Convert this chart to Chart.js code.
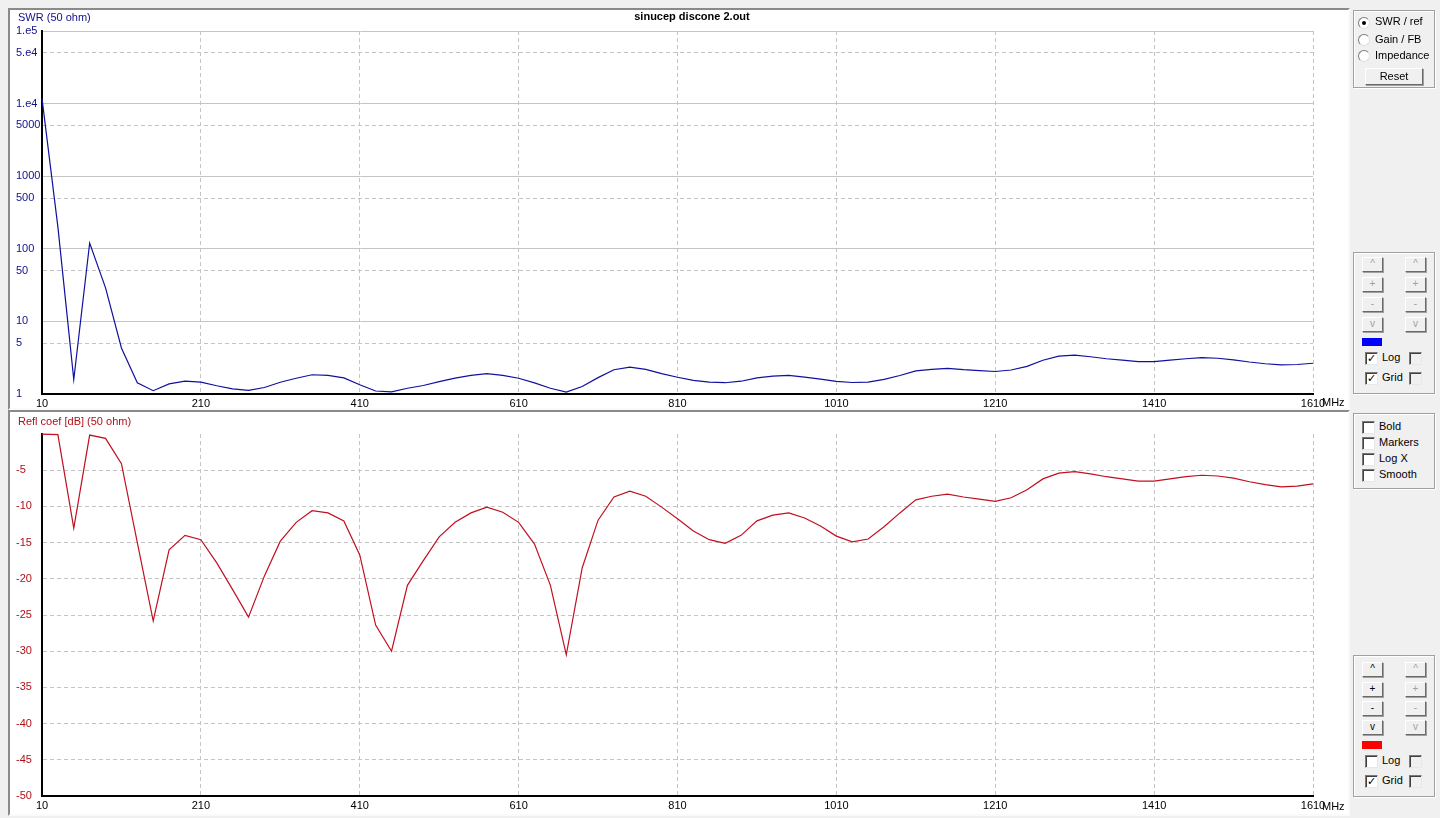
<!DOCTYPE html>
<html>
<head>
<meta charset="utf-8">
<script src="https://cdn.jsdelivr.net/npm/chart.js@4/dist/chart.umd.min.js"></script>
<style>
  body { margin: 0; width: 1440px; height: 818px; background: #f0f0f0; overflow: hidden;
         font-family: "Liberation Sans", Arial, sans-serif; font-size: 11px; position: relative; }
  .panel { position: absolute; background: #fff; border: 2px solid; border-color: #8a8a8a #fafafa #fafafa #8a8a8a; }
  .panel canvas { position: absolute; left: 0; top: 0; }
  .txt { position: absolute; white-space: nowrap; line-height: 13px; }
  .grp { position: absolute; border: 1px solid #a0a0a0; box-shadow: 1px 1px 0 #fff, inset 1px 1px 0 #fff; }
  .btn { position: absolute; width: 19px; height: 13px; background: #f0f0f0; border: 1px solid;
         border-color: #fff #6a6a6a #6a6a6a #fff; box-shadow: 1px 1px 0 #a0a0a0; text-align: center;
         font-size: 10px; line-height: 12px; color: #000; }
  .btn.off { color: #a0a0a0; }
  .wide { width: 56px; height: 15px; font-size: 11px; line-height: 15px; }
  .radio { position: absolute; width: 10px; height: 10px; border-radius: 50%; background: #fff;
           border: 1px solid; border-color: #7a7a7a #e0e0e0 #e0e0e0 #7a7a7a; }
  .radio.on::after { content: ""; position: absolute; left: 3px; top: 3px; width: 4px; height: 4px;
                     border-radius: 50%; background: #000; }
  .chk { position: absolute; width: 11px; height: 11px; background: #fff; border: 1px solid;
         border-color: #7a7a7a #e8e8e8 #e8e8e8 #7a7a7a; box-shadow: inset 1px 1px 0 #404040;
         font-family: "DejaVu Sans", sans-serif; font-size: 11px; font-weight: bold; line-height: 11px; text-align: center; }
  .chk.dis { background: #f0f0f0; }
  .sw { position: absolute; width: 20px; height: 8px; }
</style>
</head>
<body>

<div class="panel" style="left:8px;top:8px;width:1338px;height:398px">
  <canvas id="swr-chart" width="1338" height="398"></canvas>
</div>
<div class="panel" style="left:8px;top:410px;width:1338px;height:402px">
  <canvas id="refl-chart" width="1338" height="402"></canvas>
</div>

<div class="txt" style="left:0;width:1384px;top:10px;text-align:center;font-weight:bold;color:#000">sinucep discone 2.out</div>
<div class="txt" style="left:18px;top:11px;color:#10108a">SWR (50 ohm)</div>
<div class="txt" style="left:18px;top:415px;color:#b01018">Refl coef [dB] (50 ohm)</div>
<div class="txt" style="left:1322px;top:396px">MHz</div>
<div class="txt" style="left:1322px;top:800px">MHz</div>

<!-- right-hand control strip -->
<div class="grp" style="left:1353px;top:10px;width:80px;height:76px"></div>
<div class="radio on" style="left:1358px;top:17px"></div><div class="txt" style="left:1375px;top:15px">SWR / ref</div>
<div class="radio" style="left:1358px;top:34px"></div><div class="txt" style="left:1375px;top:33px">Gain / FB</div>
<div class="radio" style="left:1358px;top:50px"></div><div class="txt" style="left:1375px;top:49px">Impedance</div>
<div class="btn wide" style="left:1365px;top:68px">Reset</div>

<div class="grp" style="left:1353px;top:252px;width:80px;height:140px"></div>
<div class="btn off" style="left:1362px;top:257px">^</div><div class="btn off" style="left:1405px;top:257px">^</div>
<div class="btn off" style="left:1362px;top:277px">+</div><div class="btn off" style="left:1405px;top:277px">+</div>
<div class="btn off" style="left:1362px;top:297px">-</div><div class="btn off" style="left:1405px;top:297px">-</div>
<div class="btn off" style="left:1362px;top:317px">v</div><div class="btn off" style="left:1405px;top:317px">v</div>
<div class="sw" style="left:1362px;top:338px;background:#0000ff"></div>
<div class="chk" style="left:1365px;top:352px">✓</div><div class="txt" style="left:1382px;top:351px">Log</div>
<div class="chk dis" style="left:1409px;top:352px"></div>
<div class="chk" style="left:1365px;top:372px">✓</div><div class="txt" style="left:1382px;top:371px">Grid</div>
<div class="chk dis" style="left:1409px;top:372px"></div>

<div class="grp" style="left:1353px;top:413px;width:80px;height:74px"></div>
<div class="chk" style="left:1362px;top:421px"></div><div class="txt" style="left:1379px;top:420px">Bold</div>
<div class="chk" style="left:1362px;top:437px"></div><div class="txt" style="left:1379px;top:436px">Markers</div>
<div class="chk" style="left:1362px;top:453px"></div><div class="txt" style="left:1379px;top:452px">Log X</div>
<div class="chk" style="left:1362px;top:469px"></div><div class="txt" style="left:1379px;top:468px">Smooth</div>

<div class="grp" style="left:1353px;top:655px;width:80px;height:140px"></div>
<div class="btn" style="left:1362px;top:662px">^</div><div class="btn off" style="left:1405px;top:662px">^</div>
<div class="btn" style="left:1362px;top:682px">+</div><div class="btn off" style="left:1405px;top:682px">+</div>
<div class="btn" style="left:1362px;top:701px">-</div><div class="btn off" style="left:1405px;top:701px">-</div>
<div class="btn" style="left:1362px;top:720px">v</div><div class="btn off" style="left:1405px;top:720px">v</div>
<div class="sw" style="left:1362px;top:741px;background:#ff0000"></div>
<div class="chk" style="left:1365px;top:755px"></div><div class="txt" style="left:1382px;top:754px">Log</div>
<div class="chk dis" style="left:1409px;top:755px"></div>
<div class="chk" style="left:1365px;top:775px">✓</div><div class="txt" style="left:1382px;top:774px">Grid</div>
<div class="chk dis" style="left:1409px;top:775px"></div>

<script>
// Sweep points, MHz (20 MHz steps).
const freqs = [
    10, 30, 50, 70, 90, 110, 130, 150, 170, 190,
    210, 230, 250, 270, 290, 310, 330, 350, 370, 390,
    410, 430, 450, 470, 490, 510, 530, 550, 570, 590,
    610, 630, 650, 670, 690, 710, 730, 750, 770, 790,
    810, 830, 850, 870, 890, 910, 930, 950, 970, 990,
    1010, 1030, 1050, 1070, 1090, 1110, 1130, 1150, 1170, 1190,
    1210, 1230, 1250, 1270, 1290, 1310, 1330, 1350, 1370, 1390,
    1410, 1430, 1450, 1470, 1490, 1510, 1530, 1550, 1570, 1590,
    1610
];

// SWR (50 ohm), upper plot.
const swr = [
    11800, 200, 1.58, 120, 29, 4.3, 1.43, 1.11, 1.38, 1.50,
    1.46, 1.30, 1.18, 1.12, 1.23, 1.45, 1.65, 1.84, 1.80, 1.67,
    1.34, 1.10, 1.07, 1.20, 1.31, 1.48, 1.65, 1.80, 1.91, 1.81,
    1.65, 1.42, 1.20, 1.06, 1.27, 1.68, 2.16, 2.35, 2.18, 1.91,
    1.70, 1.54, 1.46, 1.43, 1.50, 1.67, 1.76, 1.80, 1.71, 1.60,
    1.49, 1.44, 1.46, 1.59, 1.80, 2.08, 2.18, 2.25, 2.16, 2.10,
    2.04, 2.14, 2.40, 2.92, 3.32, 3.44, 3.26, 3.06, 2.92, 2.80,
    2.80, 2.92, 3.06, 3.16, 3.11, 2.96, 2.76, 2.61, 2.52, 2.55,
    2.65
];

// Reflection coefficient in dB, lower plot.
const reflDb = [
    -0.01, -0.09, -13, -0.15, -0.6, -4.1, -15, -25.8, -16, -14,
    -14.6, -17.8, -21.5, -25.3, -19.6, -14.8, -12.2, -10.6, -10.9, -12,
    -16.7, -26.4, -30, -20.9, -17.5, -14.2, -12.2, -10.9, -10.1, -10.8,
    -12.2, -15.2, -20.9, -30.5, -18.5, -11.9, -8.7, -7.9, -8.6, -10.1,
    -11.7, -13.4, -14.6, -15.1, -14, -12, -11.2, -10.9, -11.6, -12.7,
    -14.1, -14.9, -14.5, -12.8, -10.9, -9.1, -8.6, -8.3, -8.7, -9,
    -9.3, -8.8, -7.7, -6.2, -5.4, -5.2, -5.5, -5.9, -6.2, -6.5,
    -6.5, -6.2, -5.9, -5.7, -5.8, -6.1, -6.6, -7, -7.3, -7.2,
    -6.9
];

const xTicks = [10, 210, 410, 610, 810, 1010, 1210, 1410, 1610];
const swrTicks = [1, 5, 10, 50, 100, 500, 1000, 5000, 10000, 50000, 100000];
const swrTickLabels = ['1', '5', '10', '50', '100', '500', '1000', '5000', '1.e4', '5.e4', '1.e5'];
const reflTicks = [-50, -45, -40, -35, -30, -25, -20, -15, -10, -5, 0];

const GRID = '#c4c4c4';
const DASH = [4, 3];
const FONT = { family: '"Liberation Sans", Arial, sans-serif', size: 11 };

function points(ys) {
    return freqs.map(function(f, i) { return { x: f, y: ys[i] }; });
}

// Shared x axis: 10..1610 MHz, dashed verticals, black bottom border.
function xAxis(height) {
    return {
        type: 'linear',
        min: 10,
        max: 1610,
        afterBuildTicks: function(scale) {
            scale.ticks = xTicks.map(function(v) { return { value: v }; });
        },
        afterFit: function(scale) { scale.height = height; },
        ticks: {
            color: '#000', font: FONT, padding: 3, maxRotation: 0, autoSkip: false,
            callback: function(v) { return String(v); }
        },
        grid: {
            drawTicks: false,
            color: function(c) { return c.tick && c.tick.value === 10 ? 'rgba(0,0,0,0)' : GRID; },
        },
        border: { color: '#000', width: 2, dash: DASH },
    };
}

new Chart(document.getElementById('swr-chart'), {
    type: 'line',
    data: {
        datasets: [{
            data: points(swr),
            borderColor: '#1010a0',
            borderWidth: 1.2,
            pointRadius: 0,
            tension: 0,
            clip: 2,
        }]
    },
    options: {
        responsive: false,
        animation: false,
        layout: { padding: { left: 6, top: 21, right: 35, bottom: 0 } },
        plugins: { legend: { display: false }, tooltip: { enabled: false } },
        scales: {
            x: xAxis(14),
            y: {
                type: 'logarithmic',
                min: 1,
                max: 100000,
                afterBuildTicks: function(scale) {
                    scale.ticks = swrTicks.map(function(v) { return { value: v }; });
                },
                afterFit: function(scale) { scale.width = 26; },
                ticks: {
                    color: '#10108a',
                    font: FONT,
                    crossAlign: 'far',
                    autoSkip: false,
                    callback: function(v) {
                        const i = swrTicks.indexOf(v);
                        return i < 0 ? '' : swrTickLabels[i];
                    }
                },
                grid: {
                    drawTicks: false,
                    color: function(c) { return c.tick && c.tick.value === 1 ? 'rgba(0,0,0,0)' : GRID; },
                },
                // Half-decade lines are dashed, decade lines solid.
                border: {
                    color: '#000',
                    width: 2,
                    dash: function(c) {
                        if (!c.tick) return [];
                        const lead = c.tick.value / Math.pow(10, Math.floor(Math.log10(c.tick.value) + 1e-9));
                        return Math.round(lead) === 5 ? DASH : [];
                    }
                },
            }
        }
    }
});

new Chart(document.getElementById('refl-chart'), {
    type: 'line',
    data: {
        datasets: [{
            data: points(reflDb),
            borderColor: '#c01020',
            borderWidth: 1.2,
            pointRadius: 0,
            tension: 0,
            clip: 2,
        }]
    },
    options: {
        responsive: false,
        animation: false,
        layout: { padding: { left: 6, top: 22, right: 35, bottom: 0 } },
        plugins: { legend: { display: false }, tooltip: { enabled: false } },
        scales: {
            x: xAxis(18),
            y: {
                type: 'linear',
                min: -50,
                max: 0,
                afterBuildTicks: function(scale) {
                    scale.ticks = reflTicks.map(function(v) { return { value: v }; });
                },
                afterFit: function(scale) { scale.width = 26; },
                ticks: {
                    color: '#b01018',
                    font: FONT,
                    crossAlign: 'far',
                    autoSkip: false,
                    callback: function(v) { return v === 0 ? '' : String(v); }
                },
                grid: {
                    drawTicks: false,
                    color: function(c) {
                        if (!c.tick) return GRID;
                        return c.tick.value === 0 || c.tick.value === -50 ? 'rgba(0,0,0,0)' : GRID;
                    },
                },
                border: { color: '#000', width: 2, dash: DASH },
            }
        }
    }
});
</script>
</body>
</html>
